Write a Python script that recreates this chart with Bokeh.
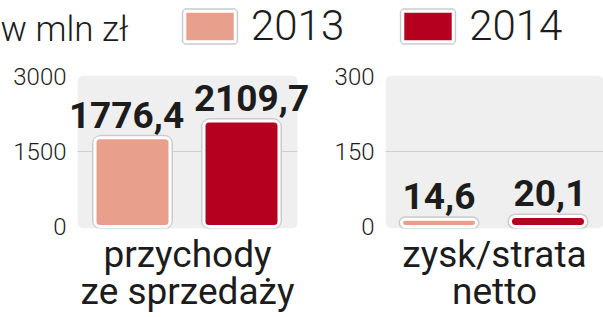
from bokeh.plotting import figure
from bokeh.layouts import column, row
from bokeh.models import (ColumnDataSource, Range1d, FixedTicker, Legend, LegendItem, LabelSet, Label,
                          BoxAnnotation)
from bokeh.core.properties import value
from bokeh.embed import file_html
from bokeh.resources import INLINE

# ---- data ----
years = ["2013", "2014"]
colors = ["#E8A08D", "#B5001F"]
revenue = [1776.4, 2109.7]
net_profit = [14.6, 20.1]
panel_titles = ["przychody\nze sprzedaży", "zysk/strata\nnetto"]
unit_label = "w mln zł"
left_ticks = [0, 1500, 3000]
right_ticks = [0, 150, 300]

LIGHT = "Roboto Light"
BOLD = "Roboto"
TXT = "#1c1c1c"
PANEL = "#EFEFEF"
GRID = "#CFCFCF"
STEP = 109.0  # px between bar centres


def fmt(v):
    return f"{v:.1f}".replace(".", ",")


def panel(vals, ticks, title, W, fl, fr, gl, gr, c0, label_shift):
    top = ticks[-1]
    ppu = 150.0 / top  # pixels per unit (150 px for full scale)
    ystart = -2 / ppu
    yend = top + 1 / ppu
    fw = fr - fl
    xs = -(c0 - fl) / STEP
    xe = (fr - c0) / STEP
    p = figure(width=W, height=257, output_backend="svg", toolbar_location=None,
               x_range=Range1d(xs, xe), y_range=Range1d(ystart, yend),
               min_border_left=fl, min_border_right=W - fr,
               min_border_top=15, min_border_bottom=89)
    p.frame_width = fw
    p.frame_height = 153
    p.background_fill_color = "white"
    p.border_fill_color = "white"
    p.outline_line_color = None
    # gray panel background (rounded)
    bl = -(c0 - gl) / STEP
    br = (gr - c0) / STEP
    p.add_layout(BoxAnnotation(left=bl, right=br, fill_color=PANEL, fill_alpha=1,
                               line_color=None, border_radius=6, level="underlay"))
    p.segment(x0=bl, x1=br, y0=ticks[1], y1=ticks[1], line_color=GRID, line_width=1)
    p.xgrid.grid_line_color = None
    p.ygrid.grid_line_color = None

    src = ColumnDataSource(dict(x=[0, 1], top=vals, color=colors,
                                label=[fmt(v) for v in vals], dx=label_shift))
    bw = 75 / STEP
    p.vbar(x="x", top="top", bottom=0, width=bw, source=src, fill_color=None,
           line_color="#CBCBCB", line_width=6, border_radius=6)
    p.vbar(x="x", top="top", bottom=0, width=bw, source=src, fill_color="color",
           line_color="white", line_width=3, border_radius=5)
    labels = LabelSet(x="x", y="top", text="label", source=src, text_align="center",
                      text_baseline="alphabetic", y_offset=10, x_offset="dx",
                      text_font=value(BOLD), text_font_style="bold",
                      text_font_size="37px", text_color=TXT)
    p.add_layout(labels)
    p.yaxis.ticker = FixedTicker(ticks=ticks)
    p.yaxis.axis_line_color = None
    p.yaxis.major_tick_line_color = None
    p.yaxis.minor_tick_line_color = None
    p.yaxis.major_label_standoff = fl - (gl - 5)
    p.yaxis.major_label_text_font = LIGHT
    p.yaxis.major_label_text_font_size = "24px"
    p.yaxis.major_label_text_color = TXT
    p.xaxis.ticker = FixedTicker(ticks=[])
    p.xaxis.axis_line_color = None
    p.xaxis.major_tick_line_color = None
    p.xaxis.minor_tick_line_color = None
    p.xaxis.major_label_text_font_size = "0px"
    p.xaxis.axis_label = title
    p.xaxis.axis_label_standoff = 4
    p.xaxis.axis_label_text_font = "Roboto"
    p.xaxis.axis_label_text_font_style = "normal"
    p.xaxis.axis_label_text_font_size = "37px"
    p.xaxis.axis_label_text_color = TXT
    p.xaxis.axis_label_text_line_height = 0.87
    return p


pa = panel(revenue, left_ticks, panel_titles[0], 310, 64, 310, 77, 297, 132, [-6, 10])
pb = panel(net_profit, right_ticks, panel_titles[1], 293, 75, 293, 75, 293, 128.5, [0, 2])

# ---- legend strip ----
lg = figure(width=603, height=60, output_backend="svg", toolbar_location=None,
            x_axis_location=None, y_axis_location=None,
            x_range=Range1d(-1, 2), y_range=Range1d(0, 3000),
            min_border=0)
lg.outline_line_color = None
lg.xgrid.grid_line_color = None
lg.ygrid.grid_line_color = None
items = []
for i, (yr, c) in enumerate(zip(years, colors)):
    src = ColumnDataSource(dict(x=[i], top=[revenue[i]]))
    r1 = lg.vbar(x="x", top="top", width=0.5, source=src, fill_color=None,
                 line_color="#CBCBCB", line_width=6, visible=False)
    r2 = lg.vbar(x="x", top="top", width=0.5, source=src, fill_color=c,
                 line_color="white", line_width=3, visible=False)
    items.append(LegendItem(label=yr, renderers=[r1, r2]))
leg = Legend(items=items, orientation="horizontal", location=(178, 10),
             label_text_font=LIGHT, label_text_font_size="42px", label_text_color=TXT,
             glyph_width=63, glyph_height=38, label_standoff=10, spacing=52,
             padding=0, margin=0, border_line_color=None, background_fill_alpha=0,
             inactive_fill_alpha=0)
lg.add_layout(leg)
lg.add_layout(Label(x=0, y=31, x_units="screen", y_units="screen", text=unit_label,
                    text_font=LIGHT, text_font_size="35px", text_color=TXT,
                    text_baseline="alphabetic"))

layout = column(lg, row(pa, pb, spacing=0), spacing=0)
open("out.html", "w").write(file_html(layout, INLINE))
